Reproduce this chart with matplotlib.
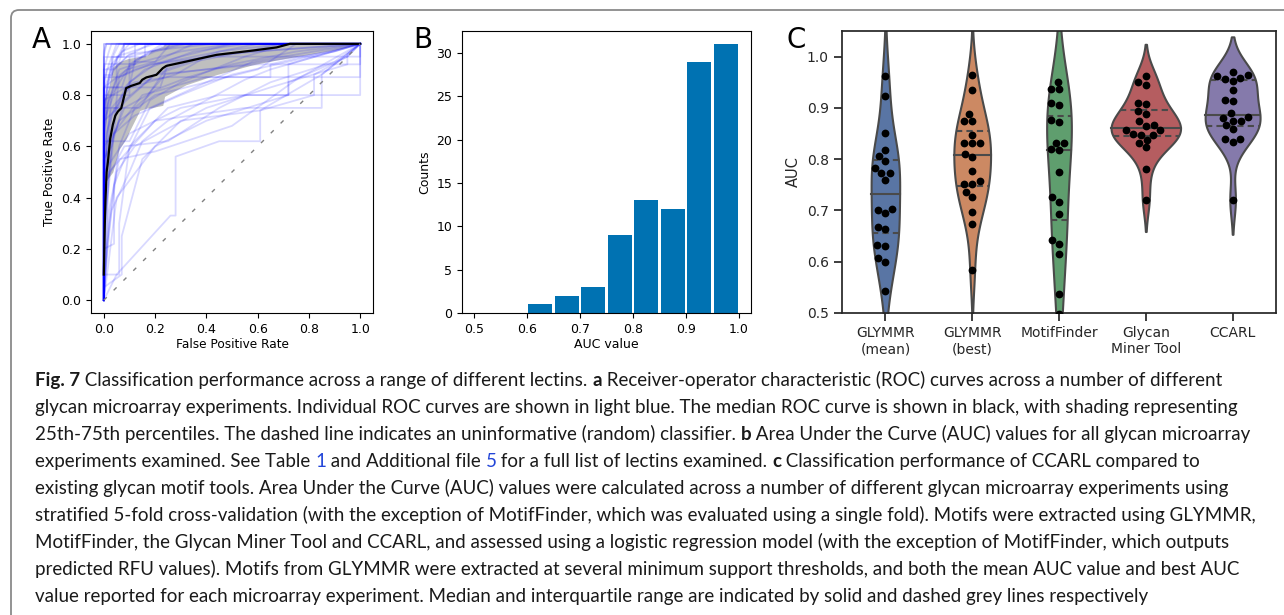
import numpy as np
import pandas as pd
import matplotlib
matplotlib.use("Agg")
import matplotlib.pyplot as plt
import matplotlib.patches as patches
import seaborn as sns

# --- Painel A: curvas ROC individuais (fpr, tpr) ---
roc_curves = [
    [(0, 0), (0, 1.0), (1, 1)],
    [(0, 0), (0, 1.0), (1, 1)],
    [(0, 0), (0, 0.97), (0.01, 1), (1, 1)],
    [(0, 0), (0, 0.95), (0.01, 1), (1, 1)],
    [(0, 0), (0, 0.9), (0.02, 0.97), (0.03, 1), (1, 1)],
    [(0, 0), (0, 0.85), (0.02, 0.92), (0.05, 1), (1, 1)],
    [(0, 0), (0, 0.8), (0.01, 0.9), (0.06, 0.93), (0.08, 1), (1, 1)],
    [(0, 0), (0, 0.75), (0.03, 0.92), (0.1, 1), (1, 1)],
    [(0, 0), (0, 0.7), (0.02, 0.88), (0.04, 0.96), (0.06, 1), (1, 1)],
    [(0, 0), (0, 0.92), (0.12, 0.92), (0.12, 1), (1, 1)],
    [(0, 0), (0, 0.6), (0.02, 0.83), (0.04, 0.92), (0.08, 1), (1, 1)],
    [(0, 0), (0, 0.5), (0.03, 0.8), (0.08, 0.88), (0.15, 0.95), (0.25, 1), (1, 1)],
    [(0, 0), (0, 0.7), (0.05, 0.83), (0.05, 0.95), (0.2, 1), (1, 1)],
    [(0, 0), (0, 0.8), (0.1, 0.8), (0.1, 0.95), (0.3, 1), (1, 1)],
    [(0, 0), (0.01, 0.65), (0.04, 0.75), (0.14, 0.75), (0.24, 0.9), (0.45, 0.97), (0.7, 1), (1, 1)],
    [(0, 0), (0, 0.25), (0.02, 0.5), (0.05, 0.75), (0.1, 0.85), (0.2, 0.92), (0.4, 0.96), (0.6, 1), (1, 1)],
    [(0, 0), (0, 0.55), (0.03, 0.6), (0.08, 0.78), (0.2, 0.88), (0.35, 0.93), (0.55, 0.97), (0.7, 1), (1, 1)],
    [(0, 0), (0, 0.83), (0.22, 0.83), (0.25, 0.92), (0.45, 0.96), (1, 1)],
    [(0, 0), (0.02, 0.3), (0.06, 0.6), (0.12, 0.75), (0.2, 0.82), (0.33, 0.87), (0.5, 0.92), (0.75, 0.97), (1, 1)],
    [(0, 0), (0, 0.88), (0.03, 0.88), (0.03, 0.95), (0.16, 0.95), (0.16, 1), (1, 1)],
    [(0, 0), (0, 0.95), (0.08, 0.95), (0.08, 1), (1, 1)],
    [(0, 0), (0, 0.67), (0.01, 0.83), (0.07, 0.83), (0.1, 0.92), (0.18, 0.97), (0.23, 1), (1, 1)],
    [(0, 0), (0, 0.4), (0.01, 0.6), (0.04, 0.7), (0.06, 0.87), (0.12, 0.9), (0.3, 0.95), (0.5, 1), (1, 1)],
    [(0, 0), (0, 0.83), (0.09, 0.9), (0.2, 0.93), (0.35, 1), (1, 1)],
    [(0, 0), (0, 0.58), (0.03, 0.75), (0.1, 0.83), (0.12, 0.93), (0.2, 0.93), (0.26, 1), (1, 1)],
    [(0, 0), (0, 0.75), (0.05, 0.75), (0.1, 0.83), (0.28, 0.88), (0.4, 0.95), (0.6, 0.97), (1, 1)],
    [(0, 0), (0, 0.1), (0.06, 0.1), (0.06, 0.3), (0.1, 0.6), (0.25, 0.75), (0.45, 0.8), (0.72, 0.8), (0.72, 0.92), (1, 1)],
    [(0, 0), (0.05, 0.1), (0.26, 0.33), (0.28, 0.33), (0.28, 0.56), (0.45, 0.62), (0.61, 0.62), (0.61, 0.74), (0.85, 0.88), (1, 1)],
    [(0, 0), (0, 0.05), (0.07, 0.1), (0.07, 0.25), (0.15, 0.55), (0.3, 0.7), (0.61, 0.74), (0.82, 0.8), (0.82, 0.88), (0.95, 0.95), (1, 1)],
    [(0, 0), (0, 0.5), (0.1, 0.65), (0.3, 0.75), (0.55, 0.8), (1, 0.8), (1, 1)],
    [(0, 0), (0, 0.6), (0.15, 0.8), (0.4, 0.87), (1, 0.87), (1, 1)],
    [(0, 0), (0, 0.7), (0.2, 0.88), (0.6, 0.92), (1, 0.92), (1, 1)],
    [(0, 0), (0.02, 0.5), (0.2, 0.7), (0.55, 0.75), (0.85, 0.75), (0.85, 0.88), (1, 1)],
    [(0, 0), (0.05, 0.4), (0.2, 0.6), (0.4, 0.7), (0.72, 0.8), (0.72, 0.85), (0.95, 0.95), (1, 1)],
    [(0, 0), (0.01, 0.2), (0.05, 0.5), (0.12, 0.6), (0.4, 0.75), (0.65, 0.83), (0.95, 0.92), (0.95, 0.96), (1, 1)],
    [(0, 0), (0.02, 0.35), (0.06, 0.55), (0.2, 0.58), (0.5, 0.68), (0.75, 0.86), (1, 1)],
    [(0, 0), (0, 0.45), (0.08, 0.6), (0.25, 0.62), (0.45, 0.75), (0.65, 0.85), (0.9, 0.93), (1, 1)],
    [(0, 0), (0.01, 0.15), (0.03, 0.35), (0.1, 0.5), (0.15, 0.62), (0.25, 0.7), (0.55, 0.86), (0.65, 0.9), (1, 1)],
    [(0, 0), (0, 0.62), (0.1, 0.62), (0.18, 0.78), (0.3, 0.85), (0.55, 0.95), (0.72, 1), (1, 1)],
    [(0, 0), (0, 0.55), (0.06, 0.7), (0.2, 0.8), (0.4, 0.85), (0.58, 0.93), (1, 1)],
    [(0, 0), (0, 0.3), (0.02, 0.45), (0.04, 0.65), (0.12, 0.72), (0.3, 0.8), (0.5, 0.88), (0.85, 0.96), (1, 1)],
    [(0, 0), (0, 0.87), (0.06, 0.87), (0.18, 0.92), (0.42, 0.95), (1, 0.95), (1, 1)],
    [(0, 0), (0, 0.78), (0.12, 0.85), (0.25, 0.87), (0.65, 0.87), (0.65, 0.92), (1, 1)],
    [(0, 0), (0.015, 0.42), (0.03, 0.62), (0.08, 0.75), (0.17, 0.8), (0.24, 0.88), (0.55, 0.92), (0.9, 0.97), (1, 1)],
    [(0, 0), (0, 0.2), (0.04, 0.22), (0.04, 0.45), (0.08, 0.55), (0.14, 0.67), (0.18, 0.75), (0.4, 0.85), (0.6, 0.9), (0.75, 1), (1, 1)],
    [(0, 0), (0, 0.65), (0.02, 0.78), (0.06, 0.9), (0.15, 0.93), (0.3, 0.97), (0.5, 1), (1, 1)],
    [(0, 0), (0, 0.9), (0.04, 0.9), (0.1, 0.96), (0.25, 0.98), (0.42, 1), (1, 1)],
    [(0, 0), (0, 0.72), (0.015, 0.85), (0.04, 0.9), (0.09, 0.95), (0.18, 1), (1, 1)],
    [(0, 0), (0, 0.82), (0.03, 0.9), (0.07, 0.97), (0.14, 1), (1, 1)],
    [(0, 0), (0, 0.62), (0.01, 0.75), (0.05, 0.86), (0.13, 0.94), (0.2, 0.97), (0.32, 1), (1, 1)],
    [(0, 0), (0, 0.35), (0.01, 0.55), (0.03, 0.72), (0.09, 0.84), (0.16, 0.9), (0.35, 0.97), (0.55, 1), (1, 1)],
]

# curva mediana (preto)
median_fpr = [0.0, 0.004, 0.0065, 0.011, 0.016, 0.025, 0.035, 0.045, 0.055, 0.068, 0.087, 0.107,
              0.14, 0.15, 0.166, 0.205, 0.23, 0.244, 0.322, 0.44, 0.583, 0.674, 0.726, 1.0]
median_tpr = [0.10, 0.30, 0.39, 0.50, 0.54, 0.63, 0.684, 0.72, 0.736, 0.749, 0.827, 0.836,
              0.847, 0.86, 0.869, 0.879, 0.905, 0.914, 0.931, 0.957, 0.974, 0.986, 1.0, 1.0]

# faixa 25-75 percentis
band_fpr = [0.0, 0.02, 0.035, 0.06, 0.087, 0.1, 0.14, 0.17, 0.185, 0.205, 0.23, 0.237,
            0.32, 0.44, 0.58, 0.674, 0.72, 0.9, 1.0]
band_lo = [0.45, 0.48, 0.50, 0.59, 0.63, 0.66, 0.74, 0.75, 0.75, 0.755, 0.76, 0.795,
           0.84, 0.88, 0.918, 0.937, 0.945, 0.976, 1.0]
band_hi = [0.78, 0.83, 0.91, 0.93, 0.94, 0.944, 0.95, 0.957, 0.974, 0.98, 0.99, 1.0,
           1.0, 1.0, 1.0, 1.0, 1.0, 1.0, 1.0]

# --- Painel B: histograma AUC ---
auc_bin_edges = [0.5, 0.55, 0.6, 0.65, 0.7, 0.75, 0.8, 0.85, 0.9, 0.95, 1.0]
auc_counts = [0, 0, 1, 2, 3, 9, 13, 12, 29, 31]

# --- Painel C: violinos ---
tools = ["GLYMMR\n(mean)", "GLYMMR\n(best)", "MotifFinder", "Glycan\nMiner Tool", "CCARL"]
auc_glymmr_mean = [0.962, 0.924, 0.852, 0.817, 0.806, 0.796, 0.783, 0.773, 0.773, 0.760,
                   0.703, 0.700, 0.695, 0.668, 0.663, 0.633, 0.630, 0.607, 0.600, 0.542]
auc_glymmr_best = [0.964, 0.935, 0.889, 0.875, 0.875, 0.848, 0.831, 0.831, 0.831, 0.811,
                   0.805, 0.776, 0.758, 0.752, 0.752, 0.736, 0.727, 0.697, 0.674, 0.583]
auc_motiffinder = [0.951, 0.936, 0.936, 0.909, 0.905, 0.876, 0.873, 0.832, 0.831, 0.819,
                   0.817, 0.775, 0.726, 0.717, 0.694, 0.643, 0.635, 0.616, 0.538, 0.499]
auc_glycan_miner = [0.962, 0.950, 0.945, 0.910, 0.908, 0.893, 0.888, 0.874, 0.867, 0.865,
                    0.857, 0.857, 0.850, 0.848, 0.848, 0.838, 0.831, 0.823, 0.781, 0.721]
auc_ccarl = [0.971, 0.965, 0.962, 0.958, 0.956, 0.953, 0.934, 0.916, 0.914, 0.890,
             0.883, 0.881, 0.875, 0.875, 0.867, 0.859, 0.840, 0.839, 0.834, 0.721]

# --- Legenda (texto) ---
caption_lines = [
    [("Fig. 7", "b"), (" Classification performance across a range of different lectins. ", "n"), ("a", "b"),
     (" Receiver-operator characteristic (ROC) curves across a number of different", "n")],
    [("glycan microarray experiments. Individual ROC curves are shown in light blue. The median ROC curve is shown in black, with shading representing", "n")],
    [("25th-75th percentiles. The dashed line indicates an uninformative (random) classifier. ", "n"), ("b", "b"),
     (" Area Under the Curve (AUC) values for all glycan microarray", "n")],
    [("experiments examined. See Table ", "n"), ("1", "l"), (" and Additional file ", "n"), ("5", "l"),
     (" for a full list of lectins examined. ", "n"), ("c", "b"), (" Classification performance of CCARL compared to", "n")],
    [("existing glycan motif tools. Area Under the Curve (AUC) values were calculated across a number of different glycan microarray experiments using", "n")],
    [("stratified 5-fold cross-validation (with the exception of MotifFinder, which was evaluated using a single fold). Motifs were extracted using GLYMMR,", "n")],
    [("MotifFinder, the Glycan Miner Tool and CCARL, and assessed using a logistic regression model (with the exception of MotifFinder, which outputs", "n")],
    [("predicted RFU values). Motifs from GLYMMR were extracted at several minimum support thresholds, and both the mean AUC value and best AUC", "n")],
    [("value reported for each microarray experiment. Median and interquartile range are indicated by solid and dashed grey lines respectively", "n")],
]

W, H = 1284, 615
fig = plt.figure(figsize=(W / 100, H / 100), dpi=100)


def px_axes(left, top, right, bottom):
    return fig.add_axes([left / W, 1 - bottom / H, (right - left) / W, (bottom - top) / H])


# moldura arredondada (sai pela direita e por baixo)
frame = patches.FancyBboxPatch((0.11, -0.5), 14.0, 6.55,
                               boxstyle="round,pad=0,rounding_size=0.08",
                               transform=fig.dpi_scale_trans, fill=False,
                               edgecolor="#8a8a8a", linewidth=1.3)
fig.patches.append(frame)

# ---------- A ----------
axA = px_axes(91, 31, 373, 313)
for curve in roc_curves:
    xs = [p[0] for p in curve]
    ys = [p[1] for p in curve]
    axA.plot(xs, ys, color="blue", alpha=0.15, lw=1.3)
axA.fill_between(band_fpr, band_lo, band_hi, color="grey", alpha=0.5, lw=0)
axA.plot(median_fpr, median_tpr, color="black", lw=1.6)
axA.plot([0, 1], [0, 1], color="grey", lw=1, ls=(0, (3, 7)))
axA.set_xlim(-0.05, 1.05)
axA.set_ylim(-0.05, 1.05)
axA.set_xticks(np.arange(0, 1.01, 0.2))
axA.set_yticks(np.arange(0, 1.01, 0.2))
axA.tick_params(labelsize=9)
axA.set_xlabel("False Positive Rate", fontsize=8.7, labelpad=2)
axA.set_ylabel("True Positive Rate", fontsize=8.7, labelpad=4)
fig.text(32 / W, 1 - 48 / H, "A", fontsize=20, va="baseline")

# ---------- B ----------
axB = px_axes(462, 31, 751, 313)
centers = [(a + b) / 2 for a, b in zip(auc_bin_edges[:-1], auc_bin_edges[1:])]
axB.hist(centers, bins=auc_bin_edges, weights=auc_counts, rwidth=0.9, color="#0072B2")
axB.set_xlim(0.4774, 1.0226)
axB.set_xticks(np.arange(0.5, 1.01, 0.1))
axB.set_yticks(np.arange(0, 31, 5))
axB.tick_params(labelsize=9)
axB.set_xlabel("AUC value", fontsize=9, labelpad=2)
axB.set_ylabel("Counts", fontsize=9, labelpad=4)
fig.text(413 / W, 1 - 48 / H, "B", fontsize=20, va="baseline")

# ---------- C ----------
axC = px_axes(842, 31, 1276, 313)
groups = [auc_glymmr_mean, auc_glymmr_best, auc_motiffinder, auc_glycan_miner, auc_ccarl]
df = pd.DataFrame({
    "tool": np.repeat(tools, [len(g) for g in groups]),
    "auc": np.concatenate(groups),
})
line_gray = "#4a4a4a"
# sem hue: a largura dos violinos fica normalizada pela maior densidade
sns.violinplot(data=df, x="tool", y="auc", color="white", inner=None,
               linewidth=1.5, linecolor=line_gray, ax=axC)
bodies = list(axC.collections)
violin_colors = [sns.desaturate(c, 0.75) for c in sns.color_palette("deep", 5)]
for body, c in zip(bodies, violin_colors):
    body.set_facecolor(c)


def poly_extent(verts, y):
    xs = []
    for (x1, y1), (x2, y2) in zip(verts[:-1], verts[1:]):
        if y1 != y2 and (y1 - y) * (y2 - y) <= 0:
            xs.append(x1 + (y - y1) * (x2 - x1) / (y2 - y1))
    return min(xs), max(xs)


for body, g in zip(bodies, groups):
    verts = body.get_paths()[0].vertices
    q1, q2, q3 = np.percentile(g, [25, 50, 75])
    for q, ls in [(q1, (0, (3, 2))), (q2, "-"), (q3, (0, (3, 2)))]:
        x0, x1 = poly_extent(verts, q)
        axC.plot([x0, x1], [q, q], color=line_gray, lw=1.5, ls=ls, zorder=3)

sns.swarmplot(data=df, x="tool", y="auc", color="black", size=5.6, ax=axC, zorder=4)
axC.set_xlim(-0.5, 4.5)
axC.set_ylim(0.5, 1.05)
axC.set_yticks(np.arange(0.5, 1.01, 0.1))
axC.set_xlabel("")
axC.set_ylabel("AUC", fontsize=10.5, color=".15", labelpad=4)
for s in axC.spines.values():
    s.set_linewidth(1.25)
    s.set_color(".15")
axC.tick_params(labelsize=10, colors=".15", length=6, width=1.25)
fig.text(787 / W, 1 - 48 / H, "C", fontsize=20, va="baseline")

# ---------- legenda ----------
cap_font = "Lato"
renderer = fig.canvas.get_renderer()


def text_width(s, size, weight):
    t = fig.text(0, 0, "|" + s + "|", fontsize=size, family=cap_font, weight=weight)
    w1 = t.get_window_extent(renderer).width
    t.remove()
    t = fig.text(0, 0, "||", fontsize=size, family=cap_font, weight=weight)
    w0 = t.get_window_extent(renderer).width
    t.remove()
    return w1 - w0


# ajusta o tamanho pela largura da 2a linha
target = 1237 - 35
cap_size = 11 * target / text_width(caption_lines[1][0][0], 11, "normal")

y0 = 386
for i, line in enumerate(caption_lines):
    x = 35
    y = y0 + i * 27
    for txt, style in line:
        weight = "bold" if style == "b" else "normal"
        color = "#2346d8" if style == "l" else "#1a1a1a"
        fig.text(x / W, 1 - y / H, txt, fontsize=cap_size, family=cap_font,
                 weight=weight, color=color, va="baseline", ha="left")
        x += text_width(txt, cap_size, weight)

fig.savefig("out.png", dpi=100)
